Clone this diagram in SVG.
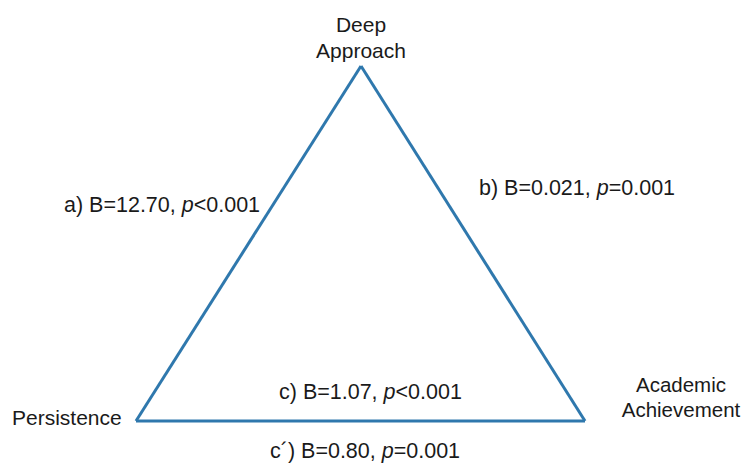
<svg xmlns="http://www.w3.org/2000/svg" width="741" height="466" viewBox="0 0 741 466">
<style>
text{font-family:"Liberation Sans",Arial,sans-serif;font-size:21.5px;fill:#1a1a1a}
.n{font-size:21px}
.e{fill:none;stroke:#2f78ad;stroke-width:3;stroke-linejoin:miter}
</style>
<rect width="741" height="466" fill="#fff"/>
<g id="connectors">
<path class="e" d="M361,66 L136,421"/>
<path class="e" d="M361,66 L585,421"/>
<path class="e" d="M136,421 L585,421"/>
</g>
<g id="deep"><text class="n" x="361" y="32" text-anchor="middle">Deep</text><text class="n" x="361" y="58" text-anchor="middle">Approach</text></g>
<g id="persistence"><text class="n" x="12" y="425">Persistence</text></g>
<g id="achievement"><text class="n" x="681" y="392" text-anchor="middle" style="font-size:20.5px">Academic</text><text class="n" x="681" y="417" text-anchor="middle" style="font-size:20.5px">Achievement</text></g>
<g id="labels">
<text x="64" y="212">a) B=12.70, <tspan font-style="italic">p</tspan>&lt;0.001</text>
<text x="479" y="195">b) B=0.021, <tspan font-style="italic">p</tspan>=0.001</text>
<text x="279" y="399">c) B=1.07, <tspan font-style="italic">p</tspan>&lt;0.001</text>
<text x="270" y="458">c´) B=0.80, <tspan font-style="italic">p</tspan>=0.001</text>
</g>
</svg>
